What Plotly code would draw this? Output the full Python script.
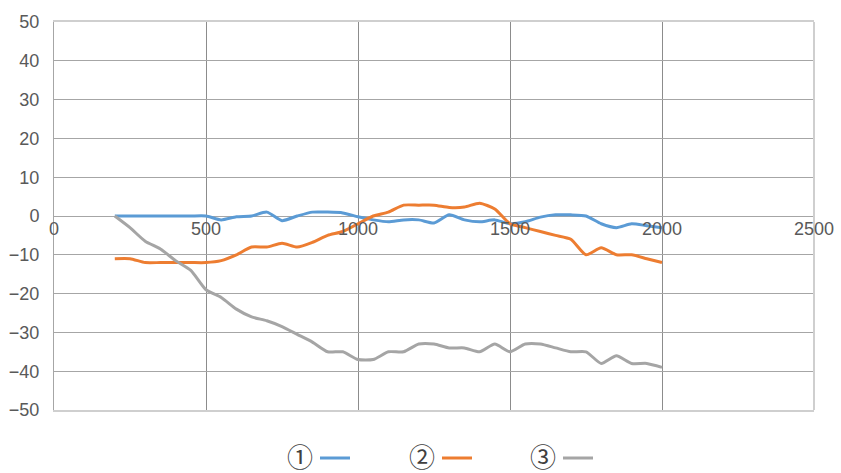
import plotly.graph_objects as go

x_vals = [200, 250, 300, 350, 400, 450, 500, 550, 600, 650, 700, 750, 800, 850, 900, 950,
          1000, 1050, 1100, 1150, 1200, 1250, 1300, 1350, 1400, 1450, 1500, 1550, 1600,
          1650, 1700, 1750, 1800, 1850, 1900, 1950, 2000]

series1 = [0, 0, 0, 0, 0, 0, 0, -1, -0.2, 0, 1, -1.2, 0, 1, 1, 0.8,
           -0.2, -1, -1.5, -1, -1, -1.8, 0.3, -1, -1.5, -1, -2, -1.5, -0.3,
           0.3, 0.3, 0, -2, -3, -2, -2.5, -3]
series2 = [-11, -11, -12, -12, -12, -12, -12, -11.5, -10, -8, -8, -7, -8, -6.8, -5, -4,
           -2, 0, 1, 2.8, 2.8, 2.8, 2.2, 2.3, 3.3, 1.8, -2, -3, -4,
           -5, -6, -10, -8.2, -10, -10, -11, -12]
series3 = [0, -3, -6.5, -8.5, -11.5, -14, -19, -21, -24, -26, -27, -28.5, -30.5, -32.5, -35, -35,
           -37, -37, -35, -35, -33, -33, -34, -34, -35, -33, -35, -33, -33,
           -34, -35, -35, -38, -36, -38, -38, -39]

names = ["①", "②", "③"]
colors = ["#5B9BD5", "#ED7D31", "#A5A5A5"]
x_ticks = [0, 500, 1000, 1500, 2000, 2500]
y_ticks = [-50, -40, -30, -20, -10, 0, 10, 20, 30, 40, 50]

FONT = "Arial, Liberation Sans, sans-serif"
font_color = "#595959"

fig = go.Figure()
for name, ys, c in zip(names, [series1, series2, series3], colors):
    fig.add_trace(go.Scatter(x=x_vals, y=ys, name=name, mode="lines",
                             line=dict(color=c, width=3, shape="spline", smoothing=0.6),
                             showlegend=False, hoverinfo="skip"))

# x tick labels placed along y = 0 (axis crosses at zero)
for t in x_ticks:
    fig.add_annotation(x=t, y=0, xref="x", yref="y", text=str(t), showarrow=False,
                       xanchor="center", yanchor="middle", yshift=-13,
                       font=dict(size=18, color=font_color, family=FONT))

# legend: circled number followed by a line sample (page px -> paper coords)
PL, PW, PB, PH = 54, 760, 410, 388
leg_x = [300, 422, 543]
for name, c, px in zip(names, colors, leg_x):
    fig.add_annotation(x=(px - PL) / PW, y=(PB - 455) / PH, xref="paper", yref="paper",
                       text=name, showarrow=False, xanchor="center", yanchor="middle",
                       font=dict(size=26, color="#404040", family="Noto Sans CJK SC"))
    fig.add_shape(type="line", xref="paper", yref="paper",
                  x0=(px + 20 - PL) / PW, x1=(px + 50 - PL) / PW,
                  y0=(PB - 458) / PH, y1=(PB - 458) / PH,
                  line=dict(color=c, width=3))

# right border of plot area
fig.add_shape(type="line", xref="paper", yref="paper", x0=1, x1=1, y0=0, y1=1,
              line=dict(color="#cfcfcf", width=2))

fig.update_layout(
    width=841, height=473,
    margin=dict(l=54, r=27, t=22, b=63, autoexpand=False),
    plot_bgcolor="white", paper_bgcolor="white",
    font=dict(family=FONT, size=18, color=font_color),
    xaxis=dict(range=[0, 2500], tickvals=x_ticks, showticklabels=False,
               showgrid=True, gridcolor="#8c8c8c", gridwidth=1, zeroline=False,
               showline=True, mirror=True, linecolor="#cfcfcf", linewidth=2,
               automargin=False),
    yaxis=dict(range=[-50, 50], tickvals=y_ticks, showgrid=True, gridcolor="#a6a6a6",
               gridwidth=1, zeroline=False, showline=True, linecolor="#a6a6a6",
               linewidth=1, ticks="", ticklabelstandoff=10, automargin=False),
)

fig.write_html("out.html", config={"displayModeBar": False},
               post_script="document.body.style.margin='0';document.body.style.overflow='hidden';")
